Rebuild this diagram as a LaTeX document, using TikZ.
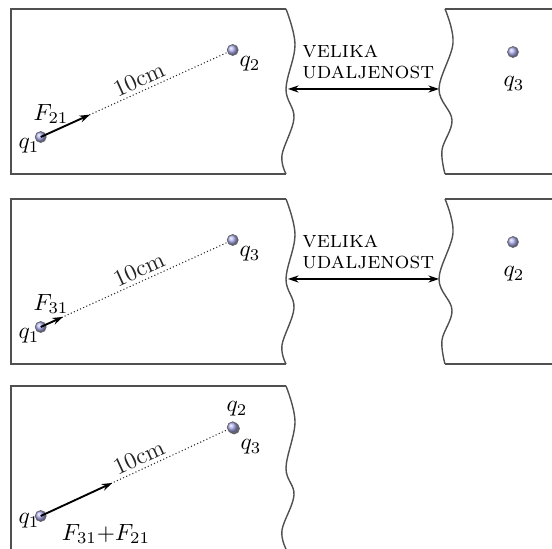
\documentclass[tikz,border=0pt]{standalone}
\usepackage{amsmath}
\definecolor{chargeblue}{RGB}{175,175,240}
\definecolor{edgegray}{RGB}{80,80,80}
\usetikzlibrary{arrows.meta,positioning,calc}
\tikzset{
  charge/.style={circle, shading=ball, ball color=chargeblue, draw=black!60, line width=0.3pt,
                 minimum size=0.165cm, inner sep=0pt},
  slab/.style={draw=edgegray, line width=0.6pt},
  distline/.style={densely dotted, line width=0.45pt, black!85},
  force/.style={-{Stealth[length=4.5pt,width=3pt]}, line width=0.8pt},
  gaparrow/.style={{Stealth[length=4.5pt,width=3pt]}-{Stealth[length=4.5pt,width=3pt]}, line width=0.6pt},
  qlabel/.style={inner sep=0pt},
  gaptext/.style={align=left, anchor=west, inner sep=0pt, font=\normalsize\scshape},
}

\begin{document}
\begin{tikzpicture}[x=0.015cm, y=-0.015cm]
  \useasboundingbox (0,0) rectangle (552,549);

  % Panel 1: slabs
  \draw[slab] (286,174) -- (11,174) -- (11,9) -- (286,9);
  \draw[slab] plot[smooth, tension=0.6] coordinates {(286,9) (295,45) (286,89) (294,118) (282,155) (286,174)};
  \draw[slab] (552,9) -- (445,9);
  \draw[slab] (552,174) -- (445,174);
  \draw[slab] plot[smooth, tension=0.6] coordinates {(445,9) (453,43) (439,89) (452,120) (442,150) (445,174)};
  \coordinate (gapLa) at (288,89);
  \coordinate (gapRa) at (439,89);
  \draw[gaparrow] (gapLa) -- (gapRa);
  \node[gaptext] (gapa) at (302,62) {velika\\[-3pt]udaljenost};

  % Panel 1: charges
  \node[charge] (q1a) at (40.7,137) {};
  \node[charge] (q2a) at (232.7,50) {};
  \node[charge] (q3a) at (513,52) {};
  \node[qlabel] at (29,146) {$q_1$};
  \node[qlabel] at (250,64) {$q_2$};
  \node[qlabel] at (514,84) {$q_3$};
  \draw[distline] (q1a) -- node[pos=0.54, sloped, above, inner sep=1.5pt] {10cm} (q2a);
  \coordinate (f21a) at ($(q1a)!0.257!(q2a)$);
  \draw[force] (q1a.center) -- (f21a);
  \node[qlabel] at (51,114) {$F_{21}$};

  % Panel 2: slabs
  \draw[slab] (286,364) -- (11,364) -- (11,199) -- (286,199);
  \draw[slab] plot[smooth, tension=0.6] coordinates {(286,199) (295,235) (286,279) (294,308) (282,345) (286,364)};
  \draw[slab] (552,199) -- (445,199);
  \draw[slab] (552,364) -- (445,364);
  \draw[slab] plot[smooth, tension=0.6] coordinates {(445,199) (453,233) (439,279) (452,310) (442,340) (445,364)};
  \coordinate (gapLb) at (288,279);
  \coordinate (gapRb) at (439,279);
  \draw[gaparrow] (gapLb) -- (gapRb);
  \node[gaptext] (gapb) at (302,252) {velika\\[-3pt]udaljenost};

  % Panel 2: charges
  \node[charge] (q1b) at (40.7,327) {};
  \node[charge] (q3b) at (232.7,240) {};
  \node[charge] (q2b) at (513,242) {};
  \node[qlabel] at (29,336) {$q_1$};
  \node[qlabel] at (250,254) {$q_3$};
  \node[qlabel] at (514,274) {$q_2$};
  \draw[distline] (q1b) -- node[pos=0.54, sloped, above, inner sep=1.5pt] {10cm} (q3b);
  \coordinate (f31b) at ($(q1b)!0.116!(q3b)$);
  \draw[force] (q1b.center) -- (f31b);
  \node[qlabel] at (51,304) {$F_{31}$};

  % Panel 3: slab
  \draw[slab] (11,549) -- (11,386) -- (286,386);
  \draw[slab] plot[smooth, tension=0.6] coordinates {(286,386) (295,422) (286,468) (294,495) (282,530) (286,549)};

  % Panel 3: charges
  \node[charge] (q1c) at (40.7,516) {};
  \node[charge] (q3c) at (234,428.5) {};
  \node[charge] (q2c) at (232.7,427.3) {};
  \node[qlabel] at (29,521) {$q_1$};
  \node[qlabel] at (237,409) {$q_2$};
  \node[qlabel] at (251,447) {$q_3$};
  \draw[distline] (q1c) -- node[pos=0.54, sloped, above, inner sep=1.5pt] {10cm} (q2c);
  \coordinate (fsumc) at ($(q1c)!0.373!(q2c)$);
  \draw[force] (q1c.center) -- (fsumc);
  \node[qlabel] at (106,534) {$F_{31}{+}F_{21}$};
\end{tikzpicture}
\end{document}
